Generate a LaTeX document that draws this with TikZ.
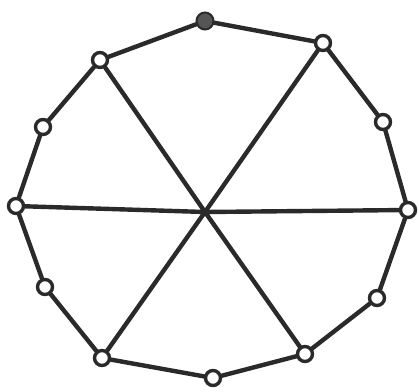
\documentclass[tikz,border=0pt]{standalone}
\begin{document}
\begin{tikzpicture}[x=1pt,y=-1pt,
  vtx/.style={circle,draw=ink,line width=3.4pt,fill=white,minimum size=15pt,inner sep=0pt},
  vfill/.style={circle,draw=ink,line width=2pt,fill=ink!80,minimum size=17pt,inner sep=0pt},
  edge/.style={draw=ink,line width=4.4pt,line cap=round}]
\definecolor{ink}{HTML}{2A2A2A}
\useasboundingbox (0,0) rectangle (419,391);
\coordinate (c) at (205,212);
\node[vfill] (v0) at (205,21) {};
\node[vtx] (v1) at (323,43) {};
\node[vtx] (v2) at (383,122) {};
\node[vtx] (v3) at (408,210) {};
\node[vtx] (v4) at (377,298) {};
\node[vtx] (v5) at (305,354) {};
\node[vtx] (v6) at (213,378) {};
\node[vtx] (v7) at (102,358) {};
\node[vtx] (v8) at (45,287) {};
\node[vtx] (v9) at (16,206) {};
\node[vtx] (v10) at (43,127) {};
\node[vtx] (v11) at (100,60) {};
\draw[edge] (v0)--(v1) (v1)--(v2) (v2)--(v3) (v3)--(v4) (v4)--(v5) (v5)--(v6)
  (v6)--(v7) (v7)--(v8) (v8)--(v9) (v9)--(v10) (v10)--(v11) (v11)--(v0);
\draw[edge] (v11)--(c)--(v5) (v1)--(c)--(v7) (v9)--(c)--(v3);
\end{tikzpicture}
\end{document}
